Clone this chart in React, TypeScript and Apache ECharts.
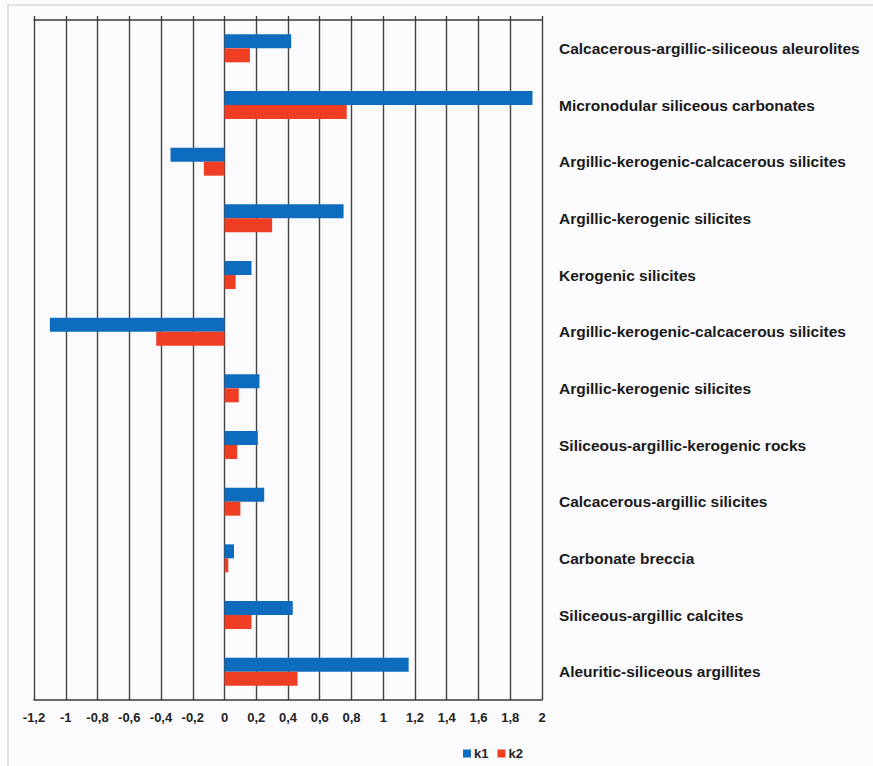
import React, { useEffect, useRef } from "react";
import * as echarts from "echarts";

const categories = [
  "Calcacerous-argillic-siliceous aleurolites",
  "Micronodular siliceous carbonates",
  "Argillic-kerogenic-calcacerous silicites",
  "Argillic-kerogenic silicites",
  "Kerogenic silicites",
  "Argillic-kerogenic-calcacerous silicites",
  "Argillic-kerogenic silicites",
  "Siliceous-argillic-kerogenic rocks",
  "Calcacerous-argillic silicites",
  "Carbonate breccia",
  "Siliceous-argillic calcites",
  "Aleuritic-siliceous argillites",
];
const k1 = [0.42, 1.94, -0.34, 0.75, 0.17, -1.1, 0.22, 0.21, 0.25, 0.06, 0.43, 1.16];
const k2 = [0.16, 0.77, -0.13, 0.3, 0.07, -0.43, 0.09, 0.08, 0.1, 0.024, 0.17, 0.46];
const xMin = -1.2;
const xMax = 2;
const xStep = 0.2;

export default function App() {
  const ref = useRef<HTMLDivElement>(null);
  useEffect(() => {
    if (!ref.current) return;
    const chart = echarts.init(ref.current, null, { renderer: "svg" });
    const fmt = (v: number) => {
      const r = Math.round(v * 10) / 10;
      return String(r).replace(".", ",");
    };
    chart.setOption({
      animation: false,
      backgroundColor: "#fbfbfd",
      textStyle: { fontFamily: "Liberation Sans, Arial, sans-serif" },
      grid: { left: 34, right: 331, top: 20, bottom: 66 },
      legend: {
        data: ["k1", "k2"],
        left: 458,
        top: 742,
        icon: "rect",
        itemWidth: 8,
        itemHeight: 8,
        itemGap: 9,
        textStyle: { fontWeight: "bold", fontSize: 13, color: "#222", padding: [0, 0, 0, -2] },
      },
      graphic: [
        {
          type: "rect",
          shape: { x: 8, y: 5, width: 870, height: 770 },
          style: { fill: "none", stroke: "#dcdcdc", lineWidth: 1.5 },
          silent: true,
        },
      ],
      xAxis: [
        {
          type: "value",
          min: xMin,
          max: xMax,
          interval: xStep,
          position: "bottom",
          axisLine: { show: true, lineStyle: { color: "#3a3a3a", width: 1.5 } },
          axisTick: { show: false },
          splitLine: { show: true, lineStyle: { color: "#444", width: 1.4 } },
          axisLabel: {
            formatter: fmt,
            fontWeight: "bold",
            fontSize: 13,
            color: "#222",
            margin: 11,
          },
        },
        {
          type: "value",
          min: xMin,
          max: xMax,
          interval: xStep,
          position: "top",
          axisLine: { show: true, lineStyle: { color: "#3a3a3a", width: 1.5 } },
          axisTick: { show: true, length: 4, lineStyle: { color: "#3a3a3a", width: 1.3 } },
          splitLine: { show: false },
          axisLabel: { show: false },
        },
      ],
      yAxis: {
        type: "category",
        data: categories,
        inverse: true,
        position: "right",
        axisLine: { show: false },
        axisTick: { show: false },
        splitLine: { show: false },
        axisLabel: {
          align: "left",
          margin: 17,
          fontWeight: "bold",
          fontSize: 15.5,
          color: "#1a1a1a",
          interval: 0,
        },
      },
      series: [
        {
          name: "k1",
          type: "bar",
          data: k1,
          barWidth: 14,
          barGap: "0%",
          itemStyle: { color: "#0d6cbd" },
        },
        {
          name: "k2",
          type: "bar",
          data: k2,
          barWidth: 14,
          barGap: "0%",
          itemStyle: { color: "#ef3e23" },
        },
      ],
    });
    return () => chart.dispose();
  }, []);
  return (
    <div
      ref={ref}
      style={{ position: "fixed", left: 0, top: 0, width: 873, height: 766 }}
    />
  );
}
